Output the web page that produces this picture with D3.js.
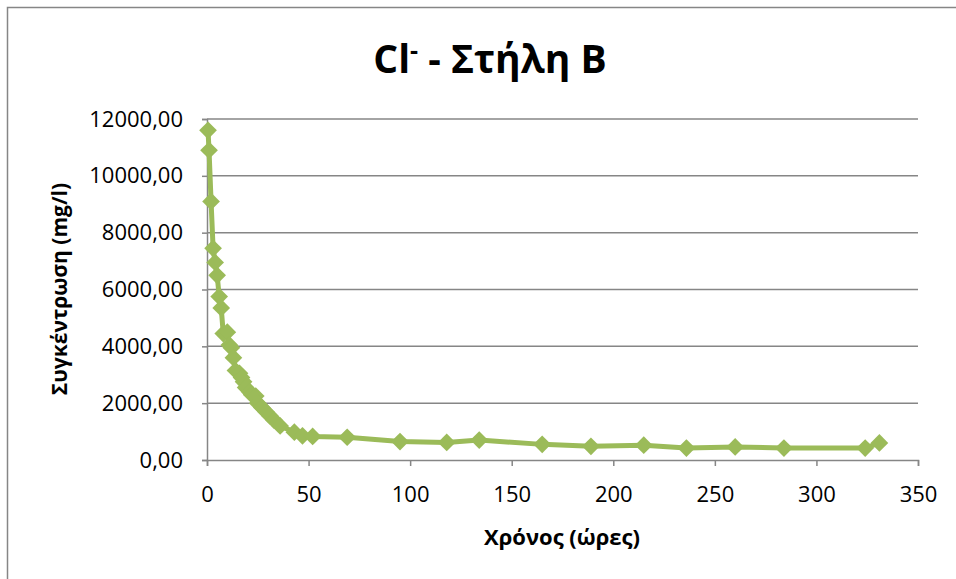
<!DOCTYPE html>
<html>
<head>
<meta charset="utf-8">
<script src="https://cdn.jsdelivr.net/npm/d3@7"></script>
<style>
  body { margin: 0; background: #fff; }
  text { font-family: "Open Sans", "Noto Sans", sans-serif; fill: #000; }
</style>
</head>
<body>
<div id="chart"></div>
<script>
// time (hours) and Cl- concentration (mg/l)
let hours = [0.5, 1, 2, 3, 4, 5, 6, 7, 8, 10, 11, 12, 13, 14, 16, 17, 18, 19, 21, 22,
  24, 25, 27, 29, 31, 33, 36, 43, 47, 52, 69, 95, 118, 134, 165, 189, 215, 236, 260, 284, 324, 331];
let conc = [11600, 10900, 9100, 7450, 6950, 6500, 5750, 5350, 4450, 4500, 4050, 3950, 3600, 3150, 3050, 2900, 2750, 2550, 2400, 2300,
  2250, 2000, 1850, 1700, 1550, 1400, 1200, 980, 850, 830, 800, 650, 620, 700, 550, 480, 520, 420, 460, 420, 420, 600];

let xTicks = [0, 50, 100, 150, 200, 250, 300, 350];
let yTicks = [0, 2000, 4000, 6000, 8000, 10000, 12000];

let width = 956, height = 579;
let margin = { top: 119, right: 38, bottom: 119, left: 207 };
let plotW = width - margin.left - margin.right;
let plotH = height - margin.top - margin.bottom;

let xScale = d3.scaleLinear().domain([0, 350]).range([0, plotW]);
let yScale = d3.scaleLinear().domain([0, 12000]).range([plotH, 0]);

let svg = d3.select("#chart").append("svg")
  .attr("width", width)
  .attr("height", height);

// chart border
svg.append("rect")
  .attr("x", 7.5).attr("y", 7.5)
  .attr("width", width + 20).attr("height", height + 20)
  .attr("fill", "none").attr("stroke", "#868686").attr("stroke-width", 1.5);

// title
let title = svg.append("text")
  .attr("x", 490).attr("y", 73)
  .attr("text-anchor", "middle")
  .style("font-size", "39px").style("font-weight", "bold");
title.append("tspan").text("Cl");
title.append("tspan").attr("dy", -14).style("font-size", "25px").text("-");
title.append("tspan").attr("dy", 14).text(" - Στήλη Β");

let g = svg.append("g")
  .attr("transform", "translate(" + margin.left + "," + margin.top + ")");

// horizontal gridlines
g.selectAll(".grid")
  .data(yTicks.filter(d => d > 0))
  .enter().append("line")
  .attr("x1", 0).attr("x2", plotW)
  .attr("y1", d => yScale(d)).attr("y2", d => yScale(d))
  .attr("stroke", "#868686").attr("stroke-width", 1.5);

let fmt = d => d3.format(".2f")(d).replace(".", ",");

let yAxis = g.append("g")
  .call(d3.axisLeft(yScale).tickValues(yTicks).tickFormat(fmt).tickSize(5).tickPadding(19));
let xAxis = g.append("g")
  .attr("transform", "translate(0," + plotH + ")")
  .call(d3.axisBottom(xScale).tickValues(xTicks).tickSize(6).tickPadding(20));

[yAxis, xAxis].forEach(ax => {
  ax.select(".domain").attr("stroke", "#868686").attr("stroke-width", 1.5);
  ax.selectAll(".tick line").attr("stroke", "#868686").attr("stroke-width", 1.5);
  ax.selectAll(".tick text").style("font-size", "22px").attr("fill", "#000");
});

// axis titles
svg.append("text")
  .attr("transform", "translate(67,289) rotate(-90)")
  .attr("text-anchor", "middle")
  .style("font-size", "21px").style("font-weight", "bold")
  .text("Συγκέντρωση (mg/l)");

svg.append("text")
  .attr("x", 562).attr("y", 545)
  .attr("text-anchor", "middle")
  .style("font-size", "22px").style("font-weight", "bold")
  .text("Χρόνος (ώρες)");

let data = hours.map((h, i) => ({ x: h, y: conc[i] }));

let line = d3.line()
  .x(d => xScale(d.x))
  .y(d => yScale(d.y));

g.append("path")
  .datum(data)
  .attr("fill", "none")
  .attr("stroke", "#9BBB59")
  .attr("stroke-width", 5)
  .attr("stroke-linejoin", "round")
  .attr("d", line);

g.selectAll(".dot")
  .data(data)
  .enter().append("path")
  .attr("class", "dot")
  .attr("transform", d => "translate(" + xScale(d.x) + "," + yScale(d.y) + ")")
  .attr("d", d3.symbol().type(d3.symbolDiamond2).size(200))
  .attr("fill", "#9BBB59");
</script>
</body>
</html>
